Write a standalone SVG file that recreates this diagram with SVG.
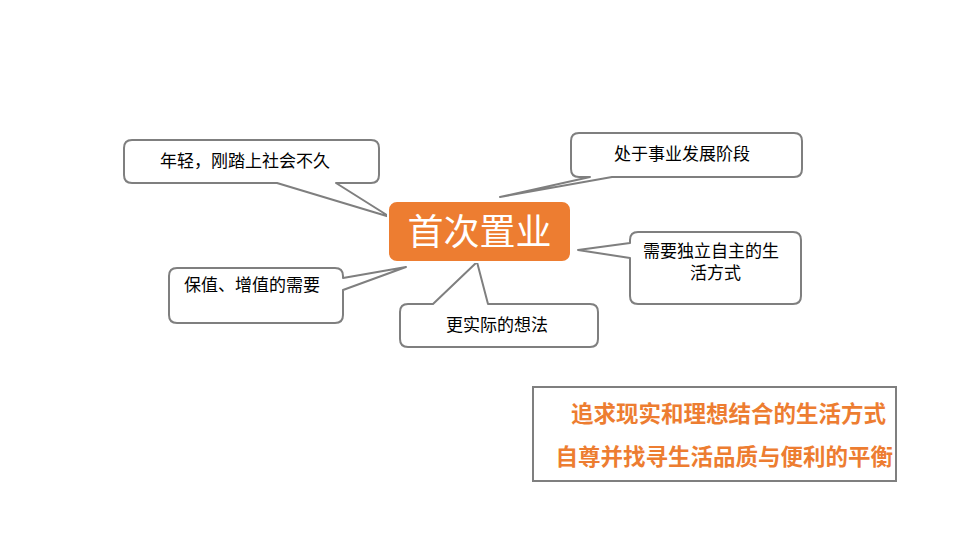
<svg xmlns="http://www.w3.org/2000/svg" width="960" height="540" viewBox="0 0 960 540">
<style>
.c{fill:#fff;stroke:#7f7f7f;stroke-width:2;stroke-linejoin:round}
.t{font-family:"Liberation Sans","Noto Sans CJK SC",sans-serif;font-size:17px;fill:#000}
.o{font-family:"Liberation Sans","Noto Sans CJK SC",sans-serif;font-size:22.5px;font-weight:bold;fill:#ED7D31;text-anchor:end}
</style>
<rect width="960" height="540" fill="#fff"/>
<g id="connectors"></g>
<g id="n1"><path class="c" d="M132,140 H371 Q379,140 379,148 V175 Q379,183 371,183 H336 L390,217 L277,183 H132 Q124,183 124,175 V148 Q124,140 132,140 Z"/><text class="t" x="160" y="167">年轻，刚踏上社会不久</text></g>
<g id="n2"><path class="c" d="M579,133 H794 Q802,133 802,141 V169 Q802,177 794,177 H612 L500,197 L590,177 H579 Q571,177 571,169 V141 Q571,133 579,133 Z"/><text class="t" x="614" y="160">处于事业发展阶段</text></g>
<g id="n3"><path class="c" d="M638,232 H793 Q801,232 801,240 V296 Q801,304 793,304 H638 Q630,304 630,296 V258 L578,250 L630,243 V240 Q630,232 638,232 Z"/><text class="t" x="643" y="257">需要独立自主的生</text><text class="t" x="690" y="279">活方式</text></g>
<g id="n4"><path class="c" d="M177,268 H335 Q343,268 343,276 V278 L406,267 L343,290 V315 Q343,323 335,323 H177 Q169,323 169,315 V276 Q169,268 177,268 Z"/><text class="t" x="184" y="291">保值、增值的需要</text></g>
<g id="n5"><path class="c" d="M408,304 H433 L477,262 L488,304 H590 Q598,304 598,312 V339 Q598,347 590,347 H408 Q400,347 400,339 V312 Q400,304 408,304 Z"/><text class="t" x="446" y="331">更实际的想法</text></g>
<g id="center"><rect x="388" y="201" width="183" height="61" rx="9" fill="#ED7D31" stroke="#fff" stroke-width="2"/><text x="479.5" y="245" text-anchor="middle" font-family="Liberation Sans,Noto Sans CJK SC,sans-serif" font-size="36" fill="#fff">首次置业</text></g>
<g id="summary"><rect x="533" y="387" width="363" height="94" fill="#fff" stroke="#7f7f7f" stroke-width="2"/><text class="o" x="886" y="422">追求现实和理想结合的生活方式</text><text class="o" x="893" y="465">自尊并找寻生活品质与便利的平衡</text></g>
</svg>
